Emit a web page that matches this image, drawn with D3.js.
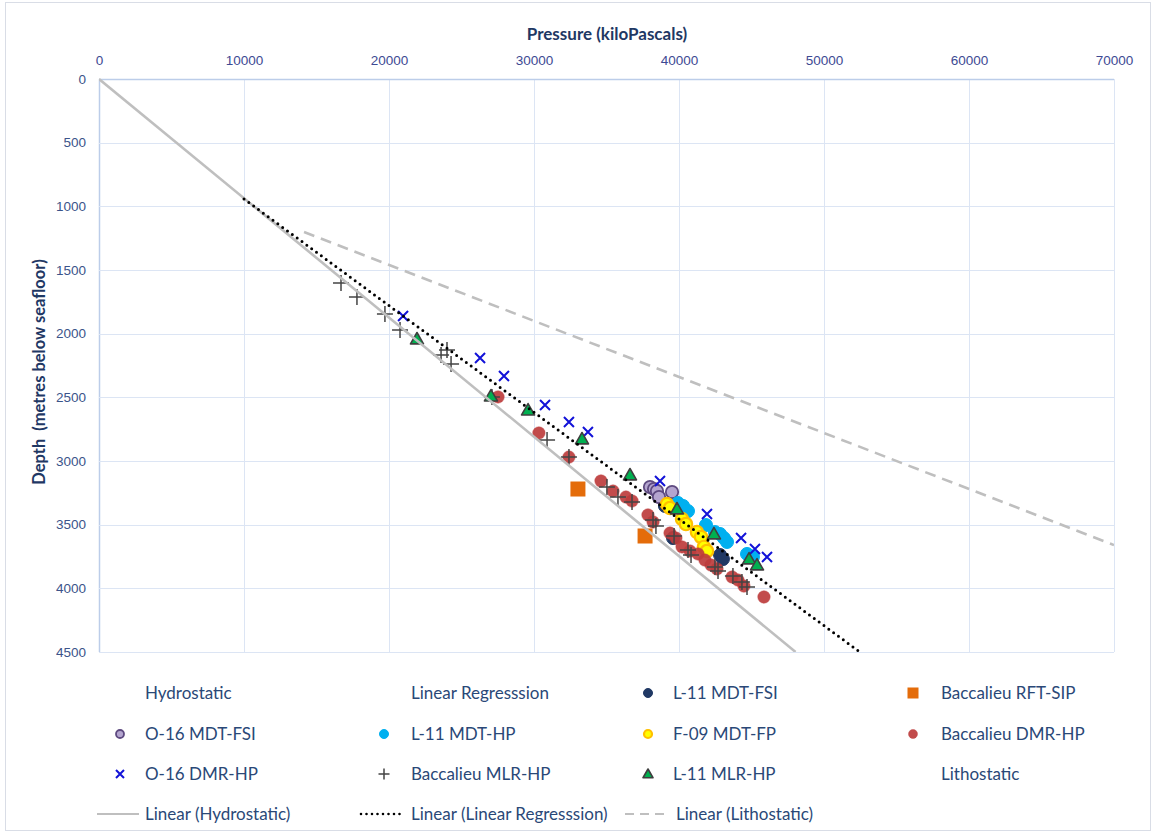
<!DOCTYPE html>
<html>
<head>
<meta charset="utf-8">
<script src="https://cdn.jsdelivr.net/npm/d3@7"></script>
<style>
  body { margin: 0; background: #fff; }
  svg { display: block; font-family: Lato, "Open Sans", "Liberation Sans", sans-serif; }
</style>
</head>
<body>
<svg id="chart" width="1152" height="832"></svg>
<script>
// ---- Axis ticks ----
const pressureTicks = [0, 10000, 20000, 30000, 40000, 50000, 60000, 70000];
const depthTicks = [0, 500, 1000, 1500, 2000, 2500, 3000, 3500, 4000, 4500];

// ---- Measured pressures (kPa) and depths (m below seafloor) ----
const l11MdtFsiP = [39030, 39590, 42830, 43030];
const l11MdtFsiD = [3353, 3605, 3738, 3770];

const bacRftSipP = [33030, 37660];
const bacRftSipD = [3220, 3589];

const o16MdtFsiP = [38000, 38280, 38480, 38620, 39520];
const o16MdtFsiD = [3204, 3220, 3236, 3283, 3244];

const l11MdtHpP = [39930, 40280, 40620, 41860, 42480, 42830, 43100, 43310, 44690, 44900, 45100];
const l11MdtHpD = [3330, 3353, 3393, 3503, 3558, 3573, 3605, 3636, 3730, 3746, 3754];

const f09MdtFpP = [39170, 39380, 40210, 40480, 41240, 41520, 41720, 41930];
const f09MdtFpD = [3338, 3369, 3456, 3495, 3558, 3597, 3675, 3707];

const bacDmrHpP = [27520, 30340, 32410, 34620, 35450, 36340, 36760, 37860, 38210, 39380, 39790,
                   40210, 40760, 41310, 41790, 42210, 42620, 43660, 44070, 44480, 45860];
const bacDmrHpD = [2497, 2780, 2969, 3157, 3236, 3283, 3314, 3424, 3479, 3566, 3605,
                   3675, 3707, 3730, 3778, 3817, 3848, 3911, 3935, 3982, 4068];

const o16DmrHpP = [20970, 26280, 27930, 30760, 32410, 33720, 38690, 41930, 44280, 45240, 46070];
const o16DmrHpD = [1861, 2191, 2333, 2560, 2694, 2772, 3157, 3416, 3605, 3691, 3754];

const bacMlrHpP = [16690, 17790, 19720, 20760, 23590, 24000, 24280, 27100, 30900, 32410, 35030, 35790,
                   36760, 38210, 38410, 39660, 40620, 40830, 42480, 42690, 43720, 44340, 44690];
const bacMlrHpD = [1602, 1712, 1846, 1971, 2168, 2128, 2238, 2497, 2835, 2969, 3204, 3283,
                   3322, 3463, 3511, 3589, 3699, 3738, 3833, 3864, 3903, 3950, 3990];

const l11MlrHpP = [21930, 27030, 29590, 33310, 36620, 39860, 42410, 44830, 45380];
const l11MlrHpD = [2042, 2490, 2600, 2827, 3110, 3377, 3573, 3770, 3817];

// ---- Linear trend lines (end points, pressure kPa / depth m) ----
const hydrostaticP = [0, 48040];
const hydrostaticD = [0, 4500];
const regressionP = [10000, 52470];
const regressionD = [942, 4500];
const lithostaticP = [14140, 70000];
const lithostaticD = [1202, 3660];

// ---- Series styling ----
const series = [
  { name: "Hydrostatic", marker: null },
  { name: "Linear Regresssion", marker: null },
  { name: "L-11 MDT-FSI", P: l11MdtFsiP, D: l11MdtFsiD, marker: "circle", fill: "#203864", stroke: "#203864", sw: 1, size: 6.5, lsize: 4.5 },
  { name: "Baccalieu RFT-SIP", P: bacRftSipP, D: bacRftSipD, marker: "square", fill: "#e46c0a", stroke: "none", size: 7.5, lsize: 5.5 },
  { name: "O-16 MDT-FSI", P: o16MdtFsiP, D: o16MdtFsiD, marker: "circle", fill: "#b4a5cf", stroke: "#5e4a80", sw: 1.8, size: 6.2, lsize: 4 },
  { name: "L-11 MDT-HP", P: l11MdtHpP, D: l11MdtHpD, marker: "circle", fill: "#00b0f0", stroke: "#00b0f0", sw: 1, size: 6.5, lsize: 4.5 },
  { name: "F-09 MDT-FP", P: f09MdtFpP, D: f09MdtFpD, marker: "circle", fill: "#ffff00", stroke: "#ffc000", sw: 2.2, size: 6.2, lsize: 4 },
  { name: "Baccalieu DMR-HP", P: bacDmrHpP, D: bacDmrHpD, marker: "circle", fill: "#bd3c3c", stroke: "#bd3c3c", sw: 0.5, size: 6.2, lsize: 4.5, opacity: 0.92 },
  { name: "O-16 DMR-HP", P: o16DmrHpP, D: o16DmrHpD, marker: "x", stroke: "#1212d8", sw: 2, size: 5, lsize: 4 },
  { name: "Baccalieu MLR-HP", P: bacMlrHpP, D: bacMlrHpD, marker: "plus", stroke: "#444444", sw: 1.5, size: 8, lsize: 5.5 },
  { name: "L-11 MLR-HP", P: l11MlrHpP, D: l11MlrHpD, marker: "triangle", fill: "#00b050", stroke: "#3f3f3f", sw: 1.6, size: 6.5, lsize: 5 },
  { name: "Lithostatic", marker: null }
];

const trends = [
  { name: "Linear (Hydrostatic)", P: hydrostaticP, D: hydrostaticD, stroke: "#bfbfbf", sw: 2.6, dash: null, cap: "butt" },
  { name: "Linear (Linear Regresssion)", P: regressionP, D: regressionD, stroke: "#000000", sw: 3, dash: "0,6", cap: "round" },
  { name: "Linear (Lithostatic)", P: lithostaticP, D: lithostaticD, stroke: "#bfbfbf", sw: 2.6, dash: "11,7", cap: "butt" }
];

// ---- Layout ----
const svg = d3.select("#chart");
const plot = { left: 99, top: 79, right: 1114, bottom: 652 };
const x = d3.scaleLinear().domain([0, 70000]).range([plot.left, plot.right]);
const y = d3.scaleLinear().domain([0, 4500]).range([plot.top, plot.bottom]);

// Chart frame
svg.append("rect").attr("x", 5.5).attr("y", 2.5).attr("width", 1145).attr("height", 828)
  .attr("fill", "#fff").attr("stroke", "#d9dde6").attr("stroke-width", 1);

// Gridlines
const grid = svg.append("g");
grid.selectAll("line.v").data(pressureTicks).join("line")
  .attr("x1", d => Math.round(x(d)) + 0.5).attr("x2", d => Math.round(x(d)) + 0.5)
  .attr("y1", plot.top).attr("y2", plot.bottom)
  .attr("stroke", d => d === 0 ? "#bccde9" : "#dce5f4").attr("stroke-width", d => d === 0 ? 1.5 : 1);
grid.selectAll("line.h").data(depthTicks).join("line")
  .attr("y1", d => Math.round(y(d)) + 0.5).attr("y2", d => Math.round(y(d)) + 0.5)
  .attr("x1", plot.left).attr("x2", plot.right)
  .attr("stroke", d => d === 0 ? "#bccde9" : "#dce5f4").attr("stroke-width", d => d === 0 ? 1.5 : 1);

// Axes (top pressure axis, left depth axis)
const xAxis = d3.axisTop(x).tickValues(pressureTicks).tickSize(0).tickPadding(0).tickFormat(d3.format("d"));
const gx = svg.append("g").attr("transform", `translate(0,${plot.top - 14})`).call(xAxis);
gx.select(".domain").remove();
gx.selectAll("text").attr("fill", "#3d4a93").style("font-size", "13.5px");

const yAxis = d3.axisLeft(y).tickValues(depthTicks).tickSize(0).tickPadding(0).tickFormat(d3.format("d"));
const gy = svg.append("g").attr("transform", `translate(${plot.left - 13},0)`).call(yAxis);
gy.select(".domain").remove();
gy.selectAll("text").attr("fill", "#3b548a").style("font-size", "13.5px");

// Axis titles
svg.append("text").attr("x", 607).attr("y", 40).attr("text-anchor", "middle")
  .attr("fill", "#1f3864").style("font-size", "17px").style("font-weight", "bold")
  .text("Pressure (kiloPascals)");
svg.append("text").attr("transform", "translate(45,372) rotate(-90)").attr("text-anchor", "middle")
  .attr("fill", "#1f3864").style("font-size", "16.5px").style("font-weight", "bold")
  .attr("xml:space", "preserve").style("white-space", "pre")
  .text("Depth  (metres below seafloor)");

// Marker drawing
function drawMarker(g, s, cx, cy, r) {
  if (s.marker === "circle") {
    g.append("circle").attr("cx", cx).attr("cy", cy).attr("r", r)
      .attr("fill", s.fill).attr("stroke", s.stroke).attr("stroke-width", s.sw)
      .attr("opacity", s.opacity || 1);
  } else if (s.marker === "square") {
    g.append("rect").attr("x", cx - r).attr("y", cy - r).attr("width", 2 * r).attr("height", 2 * r)
      .attr("fill", s.fill);
  } else if (s.marker === "x") {
    g.append("path").attr("d", `M${cx - r},${cy - r}L${cx + r},${cy + r}M${cx - r},${cy + r}L${cx + r},${cy - r}`)
      .attr("stroke", s.stroke).attr("stroke-width", s.sw).attr("fill", "none");
  } else if (s.marker === "plus") {
    g.append("path").attr("d", `M${cx - r},${cy}H${cx + r}M${cx},${cy - r}V${cy + r}`)
      .attr("stroke", s.stroke).attr("stroke-width", s.sw).attr("fill", "none");
  } else if (s.marker === "triangle") {
    g.append("path").attr("d", `M${cx},${cy - r}L${cx + r},${cy + r * 0.75}L${cx - r},${cy + r * 0.75}Z`)
      .attr("fill", s.fill).attr("stroke", s.stroke).attr("stroke-width", s.sw).attr("stroke-linejoin", "round");
  }
}

// Clip for plotting area
svg.append("clipPath").attr("id", "plotClip").append("rect")
  .attr("x", plot.left).attr("y", plot.top - 10)
  .attr("width", plot.right - plot.left).attr("height", plot.bottom - plot.top + 10);

// Data markers
const marks = svg.append("g");
series.filter(s => s.marker).forEach(s => {
  const g = marks.append("g");
  s.P.forEach((p, i) => drawMarker(g, s, x(p), y(s.D[i]), s.size));
});

// Trend lines
const line = d3.line().x(d => x(d[0])).y(d => y(d[1]));
const trendG = svg.append("g").attr("clip-path", "url(#plotClip)");
trends.forEach(t => {
  trendG.append("path").attr("d", line(t.P.map((p, i) => [p, t.D[i]])))
    .attr("fill", "none").attr("stroke", t.stroke).attr("stroke-width", t.sw)
    .attr("stroke-dasharray", t.dash).attr("stroke-linecap", t.cap);
});

// Legend
const colText = [145, 411, 673, 941];
const colMark = [120, 384, 648, 913];
const rowY = [693, 734, 774, 814];
const legend = svg.append("g").style("font-size", "17px").attr("fill", "#2a4877");
series.forEach((s, i) => {
  const c = i % 4, r = Math.floor(i / 4);
  if (s.marker) drawMarker(legend, s, colMark[c], rowY[r], s.lsize);
  legend.append("text").attr("x", colText[c]).attr("y", rowY[r]).attr("dy", "0.35em").text(s.name);
});
trends.forEach((t, c) => {
  const yy = rowY[3];
  legend.append("line").attr("x1", colMark[c] - 23).attr("x2", colMark[c] + 19)
    .attr("y1", yy).attr("y2", yy)
    .attr("stroke", t.stroke).attr("stroke-width", t.dash === "0,6" ? 2.6 : 2.2)
    .attr("stroke-dasharray", t.dash === "0,6" ? "0,5.5" : (t.dash ? "9,6" : null))
    .attr("stroke-linecap", t.cap);
  legend.append("text").attr("x", colText[c] + (c === 2 ? 3 : 0)).attr("y", yy).attr("dy", "0.35em").text(t.name);
});
</script>
</body>
</html>
